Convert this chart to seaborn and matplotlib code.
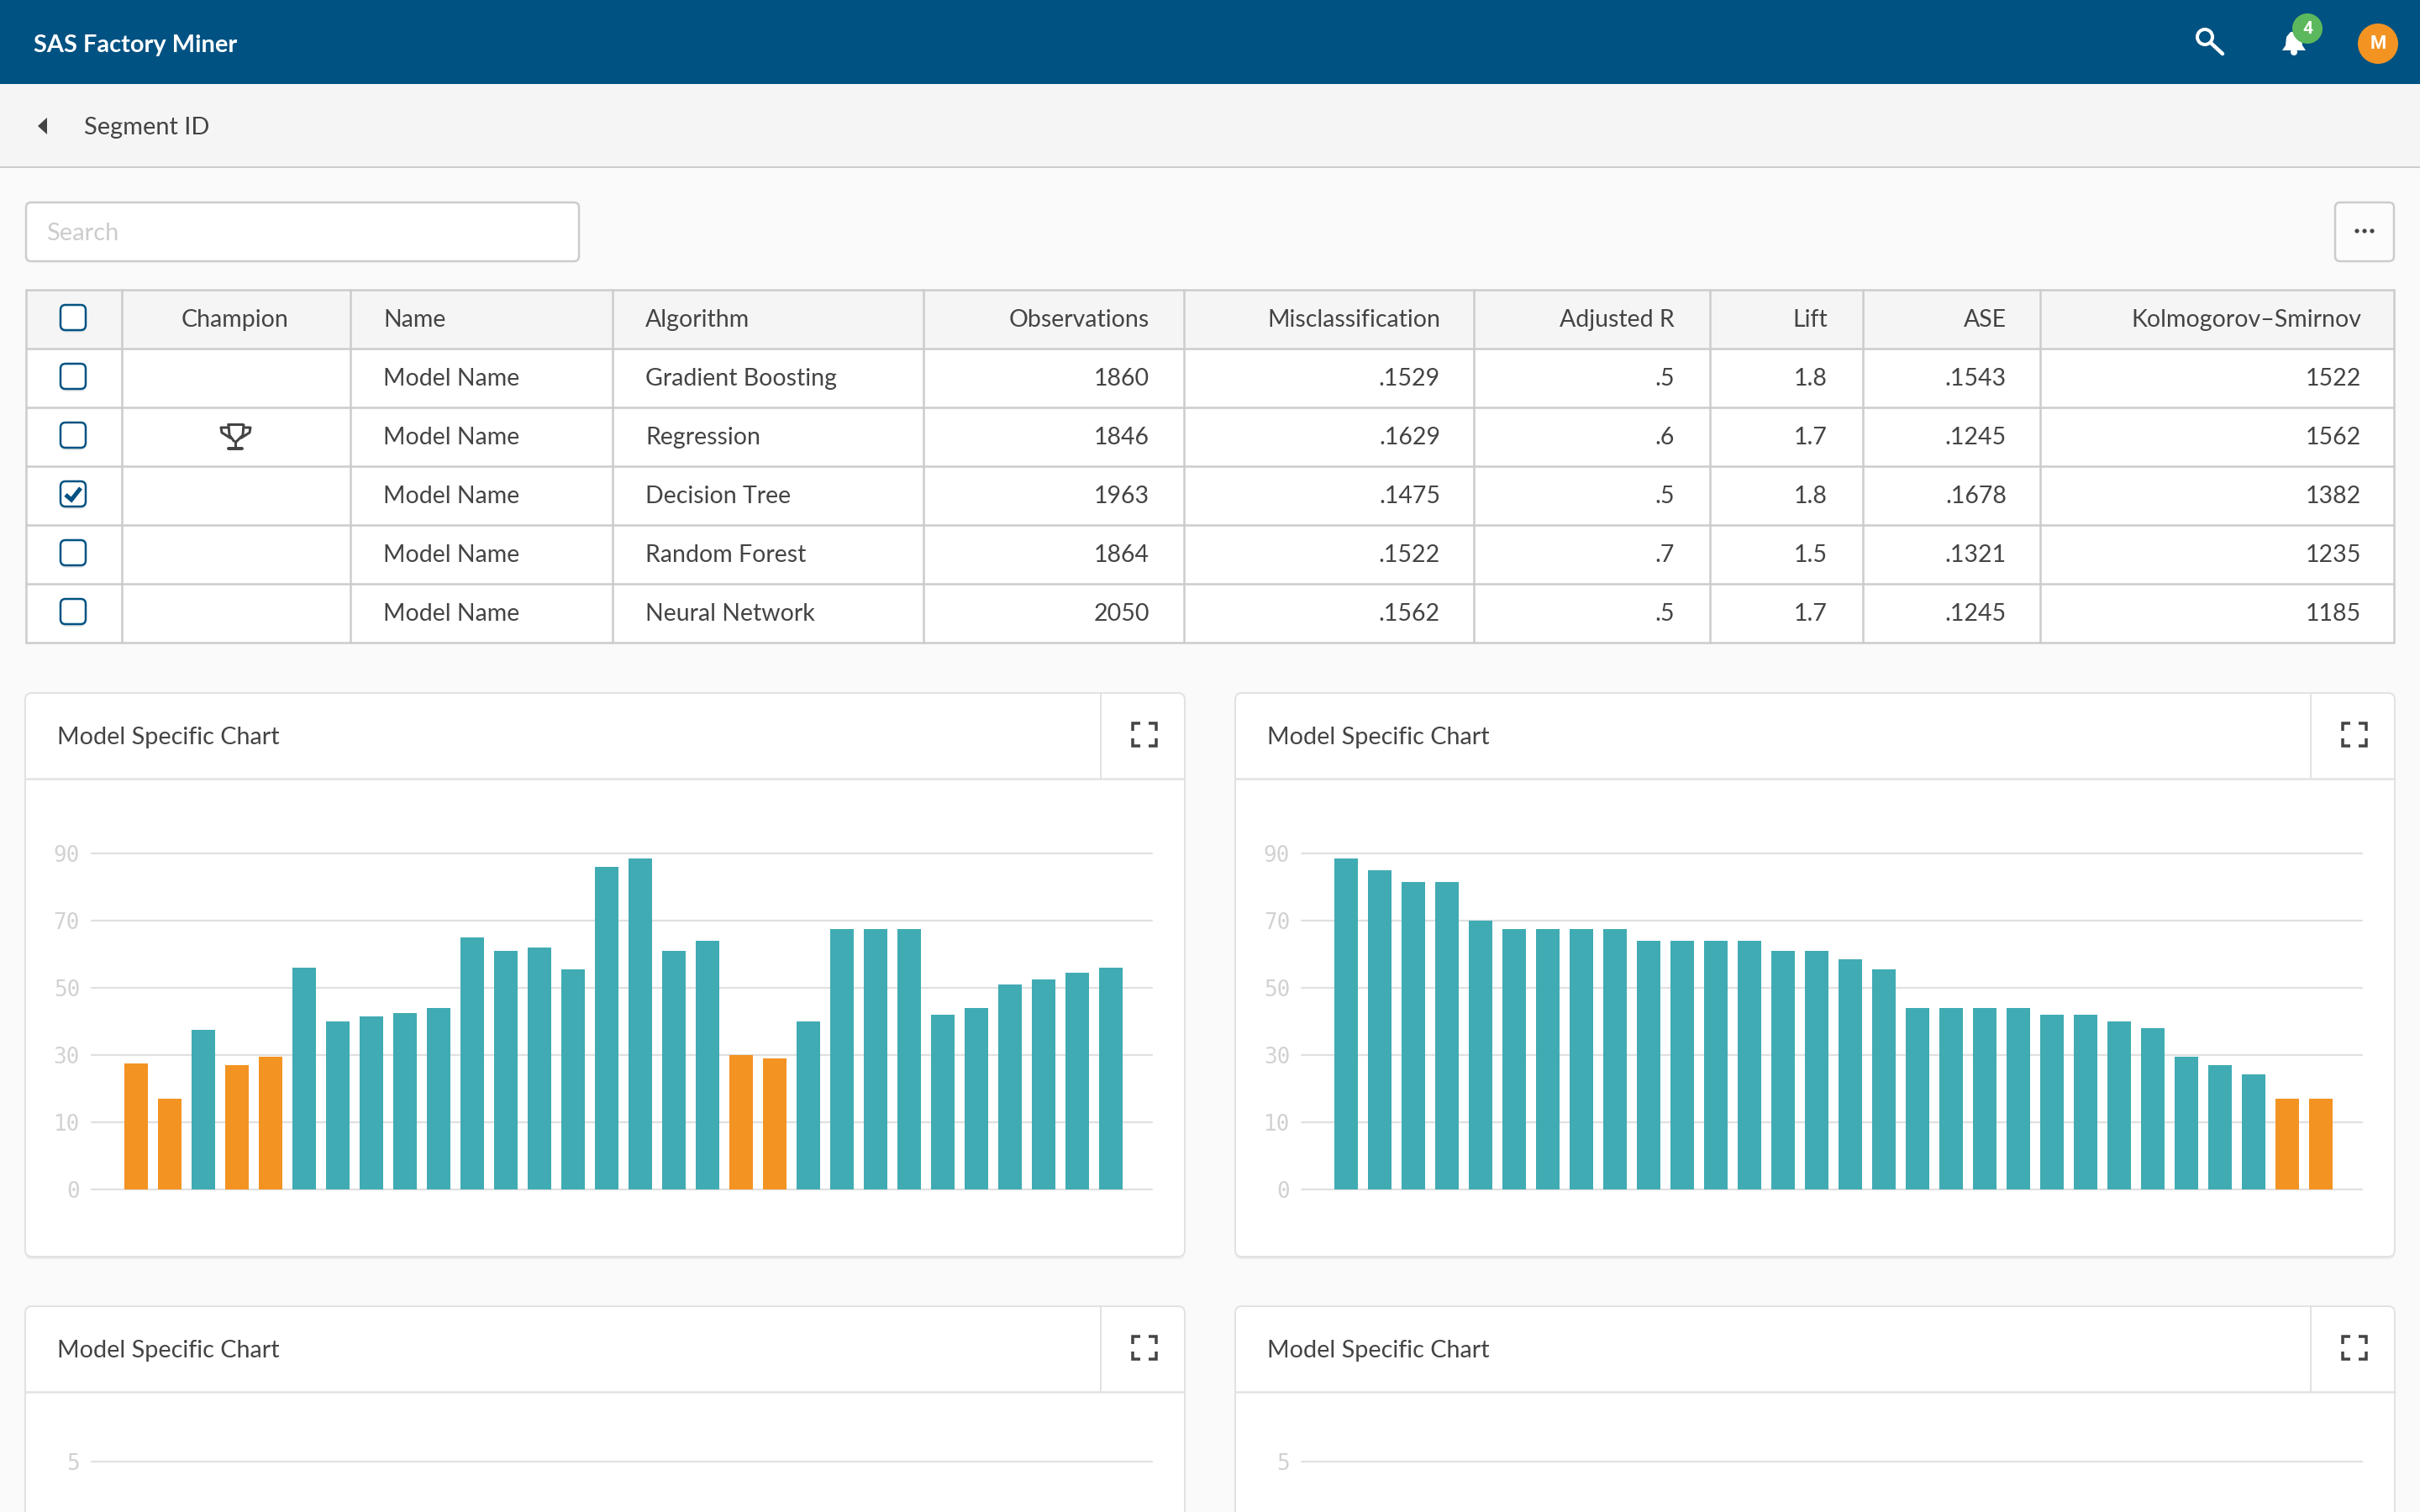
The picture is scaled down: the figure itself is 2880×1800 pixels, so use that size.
#!/usr/bin/env python
# -*- coding: utf-8 -*-

""" Factory miner dashboard: model table plus the four model specific bar charts. """

import numpy as np
import pandas as pd
import matplotlib as mpl
mpl.use('Agg')

import matplotlib.pyplot as plt
from matplotlib.patches import FancyBboxPatch, Rectangle, Circle, Polygon
import seaborn as sns

WIDTH, HEIGHT = 2880, 1800
DPI = 200

# table
table_headers = ['Champion', 'Name', 'Algorithm', 'Observations', 'Misclassification',
                 'Adjusted R', 'Lift', 'ASE', 'Kolmogorov\u2013Smirnov']
model_names = ['Model Name'] * 5
algorithms = ['Gradient Boosting', 'Regression', 'Decision Tree', 'Random Forest', 'Neural Network']
observations = ['1860', '1846', '1963', '1864', '2050']
misclassification = ['.1529', '.1629', '.1475', '.1522', '.1562']
adjusted_r = ['.5', '.6', '.5', '.7', '.5']
lift = ['1.8', '1.7', '1.8', '1.5', '1.7']
ase = ['.1543', '.1245', '.1678', '.1321', '.1245']
ks = ['1522', '1562', '1382', '1235', '1185']
checked_row = 2
champion_row = 1

# charts
y_ticks = [0, 10, 30, 50, 70, 90]
left_values = [27.5, 17, 37.5, 27.1, 29.5, 56.1, 40, 41.6, 42.6, 44,
               65, 61, 62, 55.5, 86, 88.6, 61, 64, 30, 29,
               40, 67.6, 67.6, 67.6, 42, 44, 51, 52.5, 54.5, 56]
left_flags = ['low', 'low', 'ok', 'low', 'low', 'ok', 'ok', 'ok', 'ok', 'ok',
              'ok', 'ok', 'ok', 'ok', 'ok', 'ok', 'ok', 'ok', 'low', 'low',
              'ok', 'ok', 'ok', 'ok', 'ok', 'ok', 'ok', 'ok', 'ok', 'ok']
right_values = [88.6, 85, 81.5, 81.5, 70, 67.6, 67.6, 67.6, 67.6, 64,
                64, 64, 64, 61, 61, 58.5, 55.5, 44, 44, 44,
                44, 41.9, 41.9, 40, 37.9, 29.4, 27.1, 24.3, 17, 17]
right_flags = ['ok'] * 28 + ['low', 'low']

BLUE = '#005282'
TEAL = '#40ABB3'
ORANGE = '#F39322'
GREEN = '#5CB85C'
TEXT = '#444444'
LINE = '#CCCCCC'
CARD_LINE = '#E2E2E2'
FONT = 'Lato'


def px(n):
    # screen pixels to points
    return n * 72.0 / DPI


def label(ax, x, y, s, size=28.5, color=TEXT, ha='left', **kw):
    ax.text(x, y + 2, s, fontsize=px(size), color=color, ha=ha, va='center', family=FONT, **kw)


def round_box(ax, x0, y0, x1, y1, face, edge, lw=2, r=6, zorder=2):
    ax.add_patch(FancyBboxPatch((x0, y0), x1 - x0, y1 - y0, boxstyle='round,pad=0,rounding_size=%d' % r,
                                fc=face, ec=edge, lw=px(lw), zorder=zorder))


def checkbox(ax, cx, cy, checked=False):
    ax.add_patch(FancyBboxPatch((cx - 15, cy - 12), 30, 30, boxstyle='round,pad=0,rounding_size=6',
                                fc='#E8E8E8', ec='none', zorder=3))
    round_box(ax, cx - 15, cy - 15, cx + 15, cy + 15, 'white', BLUE, lw=2.5, r=6, zorder=4)
    if checked:
        ax.plot([cx - 9, cx - 2, cx + 9], [cy + 1, cy + 7, cy - 7], color=BLUE, lw=px(5),
                solid_capstyle='butt', solid_joinstyle='miter', zorder=5)


def trophy(ax, cx, top):
    kw = dict(color=TEXT, lw=px(3), zorder=5, solid_capstyle='butt')
    ax.plot([cx - 10, cx + 10], [top + 1, top + 1], **kw)
    ax.plot([cx - 8, cx - 7, cx - 1], [top + 1, top + 14, top + 22], **kw)
    ax.plot([cx + 10, cx + 9, cx + 1], [top + 1, top + 14, top + 22], **kw)
    ax.plot([cx - 8, cx - 17, cx - 16, cx - 5], [top + 5, top + 5, top + 11, top + 18], **kw)
    ax.plot([cx + 10, cx + 18, cx + 17, cx + 6], [top + 5, top + 5, top + 11, top + 18], **kw)
    ax.plot([cx, cx], [top + 20, top + 30], **kw)
    ax.plot([cx - 8, cx + 8], [top + 30, top + 30], color=TEXT, lw=px(4), zorder=5)


def expand_icon(ax, x0, y0, x1, y1):
    kw = dict(color=TEXT, lw=px(3.5), solid_capstyle='butt', solid_joinstyle='miter', zorder=4)
    n = 9
    ax.plot([x0, x0, x0 + n], [y0 + n, y0, y0], **kw)
    ax.plot([x1 - n, x1, x1], [y0, y0, y0 + n], **kw)
    ax.plot([x0, x0, x0 + n], [y1 - n, y1, y1], **kw)
    ax.plot([x1 - n, x1, x1], [y1, y1, y1 - n], **kw)


def card(ax, x0, y0, y1):
    x1 = x0 + 1380
    ax.add_patch(FancyBboxPatch((x0, y0 + 3), 1380, y1 - y0, boxstyle='round,pad=0,rounding_size=8',
                                fc='#ECECEC', ec='none', zorder=1))
    round_box(ax, x0, y0, x1, y1, 'white', CARD_LINE, lw=2, r=8)
    ax.plot([x0, x1], [y0 + 102, y0 + 102], color=CARD_LINE, lw=px(2.5), zorder=3)
    ax.plot([x0 + 1280, x0 + 1280], [y0, y0 + 102], color=CARD_LINE, lw=px(2), zorder=3)
    label(ax, x0 + 38, y0 + 51, 'Model Specific Chart', size=28.8, zorder=4)
    expand_icon(ax, x0 + 1318, y0 + 36, x0 + 1346, y0 + 63)


def draw_chrome(ax):
    ax.add_patch(Rectangle((0, 0), WIDTH, 100, fc=BLUE, ec='none'))
    ax.add_patch(Rectangle((0, 100), WIDTH, 99, fc='#F5F5F5', ec='none'))
    ax.plot([0, WIDTH], [199, 199], color=LINE, lw=px(2))
    label(ax, 40, 52, 'SAS Factory Miner', size=29, color='white', fontweight='bold', zorder=4)

    # top bar icons
    ax.add_patch(Circle((2624, 44), 9, fc='none', ec='white', lw=px(4), zorder=4))
    ax.plot([2632, 2645], [52, 64], color='white', lw=px(4.5), zorder=4)
    ax.add_patch(Polygon([(2716, 60), (2720, 54), (2721, 44), (2726, 38), (2734, 38), (2739, 44),
                          (2740, 54), (2744, 60)], fc='white', ec='none', zorder=4))
    ax.add_patch(Circle((2730, 62), 4, fc='white', ec='none', zorder=4))
    ax.add_patch(Circle((2746, 34), 18, fc=GREEN, ec='none', zorder=5))
    ax.text(2746, 34, '4', fontsize=px(21), color='white', ha='center', va='center',
            family='Roboto', fontweight='bold', zorder=6)
    ax.add_patch(Circle((2830, 52), 24, fc=ORANGE, ec='none', zorder=4))
    ax.text(2830, 52, 'M', fontsize=px(22), color='white', ha='center', va='center',
            family='Roboto', fontweight='bold', zorder=5)

    # breadcrumb
    ax.add_patch(Polygon([(45, 150), (56, 140), (56, 160)], fc=TEXT, ec='none', zorder=4))
    label(ax, 100, 150, 'Segment ID', size=29, zorder=4)

    # search and menu
    round_box(ax, 31, 241, 689, 311, 'white', LINE, lw=2.5, r=6)
    label(ax, 55, 276, 'Search', size=29, color='#CCCCCC', zorder=4)
    round_box(ax, 2779, 241, 2849, 311, '#FCFCFC', LINE, lw=2.5, r=6)
    for x in [2805, 2814, 2823]:
        ax.add_patch(Circle((x, 275), 2.6, fc=TEXT, ec='none', zorder=4))


def draw_table(ax):
    col_x = [31, 145, 417, 729, 1099, 1409, 1754, 2035, 2217, 2428, 2849]
    row_y = [345, 415, 485, 555, 625, 695, 765]
    text_pos = [(280, 'center'), (456, 'left'), (768, 'left'), (1368, 'right'), (1714, 'right'),
                (1993, 'right'), (2175, 'right'), (2388, 'right'), (2810, 'right')]
    columns = [[''] * 5, model_names, algorithms, observations, misclassification,
               adjusted_r, lift, ase, ks]

    ax.add_patch(Rectangle((col_x[0], row_y[0]), col_x[-1] - col_x[0], row_y[-1] - row_y[0],
                           fc='white', ec='none', zorder=2))
    ax.add_patch(Rectangle((col_x[0], row_y[0]), col_x[-1] - col_x[0], 70, fc='#F5F5F5', ec='none', zorder=2))
    for x in col_x:
        ax.plot([x, x], [row_y[0], row_y[-1]], color=LINE, lw=px(2.5), zorder=3)
    for y in row_y:
        ax.plot([col_x[0], col_x[-1]], [y, y], color=LINE, lw=px(2.5), zorder=3)

    checkbox(ax, 87, 378)
    for (x, ha), head in zip(text_pos, table_headers):
        label(ax, x, 379, head, ha=ha, zorder=4)
    for i in range(5):
        cy = 450 + 70 * i
        checkbox(ax, 87, cy - 2, checked=i == checked_row)
        for (x, ha), col in zip(text_pos, columns):
            if col[i]:
                label(ax, x, cy - 1, col[i], ha=ha, zorder=4)
    trophy(ax, 280, row_y[champion_row + 1] + 19)


def chart_axes(fig, x0, y_top, y_bottom):
    ax = fig.add_axes([x0 / WIDTH, 1 - y_bottom / HEIGHT, 1262 / WIDTH, (y_bottom - y_top) / HEIGHT])
    ax.patch.set_alpha(0)
    sns.despine(ax=ax, left=True, bottom=True)
    return ax


def style_ticks(ax):
    ax.grid(axis='y', color='#E0E0E0', lw=px(2.2))
    ax.set_axisbelow(True)
    for line in ax.get_ygridlines():
        line.set_clip_on(False)
    ax.tick_params(axis='y', length=0, pad=px(14), labelsize=px(26), labelcolor='#D2D2D2')
    for t in ax.get_yticklabels():
        t.set_family('DejaVu Sans Mono')
    ax.set_xlabel('')
    ax.set_ylabel('')


def forward(v):
    # the axis steps evenly through 0, 10, 30, 50, 70, 90
    return np.interp(v, y_ticks, np.arange(len(y_ticks)))


def inverse(v):
    return np.interp(v, np.arange(len(y_ticks)), y_ticks)


def bar_chart(fig, x0, values, flags):
    ax = chart_axes(fig, x0, 1016, 1416)
    df = pd.DataFrame({'bar': range(len(values)), 'value': values, 'flag': flags})
    sns.barplot(data=df, x='bar', y='value', hue='flag', dodge=False, width=0.71, saturation=1,
                palette={'ok': TEAL, 'low': ORANGE}, legend=False, errorbar=None, linewidth=0, ax=ax)
    ax.set_yscale('function', functions=(forward, inverse))
    ax.set_ylim(0, 90)
    ax.set_yticks(y_ticks)
    ax.yaxis.set_minor_locator(mpl.ticker.NullLocator())
    ax.yaxis.set_major_formatter(mpl.ticker.FormatStrFormatter('%d'))
    ax.set_xlim(-1.325, 30.225)
    ax.set_xticks([])
    style_ticks(ax)


def empty_chart(fig, x0):
    # only the top gridline of these charts is on screen
    ax = chart_axes(fig, x0, 1740, 1800)
    ax.set_ylim(4, 5)
    ax.set_yticks([5])
    ax.set_yticklabels(['5'])
    ax.set_xticks([])
    style_ticks(ax)


def main():
    sns.set_theme(style='white')
    plt.rcParams['font.family'] = [FONT, 'DejaVu Sans']

    fig = plt.figure(figsize=(WIDTH / DPI, HEIGHT / DPI), dpi=DPI, facecolor='#FAFAFA')

    ui = fig.add_axes([0, 0, 1, 1])
    ui.set_xlim(0, WIDTH)
    ui.set_ylim(HEIGHT, 0)
    ui.axis('off')

    draw_chrome(ui)
    draw_table(ui)
    for x0 in [30, 1470]:
        card(ui, x0, 825, 1496)
        card(ui, x0, 1555, 1900)

    bar_chart(fig, 109, left_values, left_flags)
    bar_chart(fig, 1549, right_values, right_flags)
    empty_chart(fig, 109)
    empty_chart(fig, 1549)

    fig.savefig('out.png', dpi=DPI, facecolor=fig.get_facecolor())


if __name__ == '__main__':
    main()
